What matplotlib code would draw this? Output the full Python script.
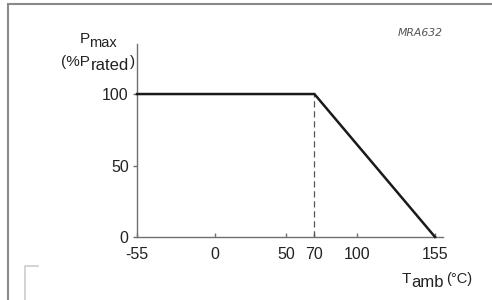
import matplotlib
matplotlib.use("Agg")
import matplotlib.pyplot as plt
from matplotlib.patches import Rectangle
from matplotlib.lines import Line2D

plt.rcParams['font.family'] = ['Liberation Sans', 'DejaVu Sans']

# derating curve
temp = [-55, 70, 155]
pmax = [100, 100, 0]
knee_t = 70
xticks = [-55, 0, 50, 70, 100, 155]
yticks = [0, 50, 100]

W, H = 492, 300
fig = plt.figure(figsize=(W / 100, H / 100), dpi=100)

def fx(px):
    return px / W

def fy(py):
    return 1 - py / H

ax = fig.add_axes([fx(137), fy(237), fx(443) - fx(137), fy(44) - fy(237)])
ax.plot(temp, pmax, color='#1a1a1a', lw=1.8, solid_joinstyle='miter', clip_on=False, zorder=3)
ax.plot([knee_t, knee_t], [0, 100], color='#555555', lw=0.9, ls=(0, (5, 3)), zorder=2)

ax.set_xlim(-55, 160.6)
ax.set_ylim(0, 135)
for s in ['top', 'right']:
    ax.spines[s].set_visible(False)
for s in ['left', 'bottom']:
    ax.spines[s].set_color('#707070')
    ax.spines[s].set_linewidth(1.0)

ax.set_xticks(xticks)
ax.set_xticklabels([str(v) for v in xticks])
ax.set_yticks(yticks)
ax.set_yticklabels([str(v) for v in yticks])
ax.tick_params(axis='x', direction='in', length=3, width=1, color='#707070',
               labelsize=11.5, labelcolor='#222222', pad=7)
ax.tick_params(axis='y', direction='out', length=3, width=1, color='#707070',
               labelsize=11.5, labelcolor='#222222', pad=3)

txt = dict(color='#222222', ha='left', va='baseline')
fig.text(fx(80), fy(43), 'P', fontsize=11, **txt)
fig.text(fx(89), fy(47), 'max', fontsize=10.5, **txt)
fig.text(fx(61), fy(66), '(%P', fontsize=11, **txt)
fig.text(fx(91), fy(70), 'rated', fontsize=12, **txt)
fig.text(fx(130), fy(66), ')', fontsize=11, **txt)
fig.text(fx(402), fy(283), 'T', fontsize=11, **txt)
fig.text(fx(411), fy(287), 'amb', fontsize=12, **txt)
fig.text(fx(446), fy(283), '(\u00b0C)', fontsize=10.5, **txt)
fig.text(fx(398), fy(36), 'MRA632', fontsize=7.8, style='italic', color='#555555',
         family='DejaVu Sans', ha='left', va='baseline')

# page border and corner mark
fig.patches.append(Rectangle((fx(8), fy(400)), fx(600), fy(4) - fy(400),
                             transform=fig.transFigure, fill=False,
                             edgecolor='#8a8a8a', lw=1.5))
fig.lines.append(Line2D([fx(25), fx(25), fx(38)], [fy(300), fy(266), fy(266)],
                        transform=fig.transFigure, color='#cccccc', lw=1.2))

fig.savefig('out.png', dpi=100)
